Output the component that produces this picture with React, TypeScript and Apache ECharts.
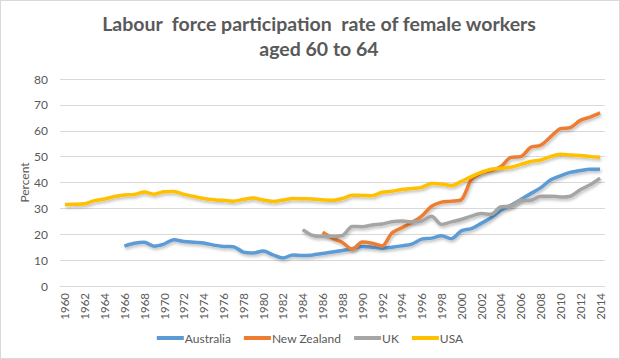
import React, { useEffect, useRef } from "react";
import * as echarts from "echarts";

const years: string[] = [];
for (let y = 1960; y <= 2014; y++) years.push(String(y));

const N = null;
// 1960-1965 missing
const australia = [N, N, N, N, N, N,
  15.4, 16.5, 16.9, 15.4, 16.2, 17.9, 17.2, 16.9, 16.6, 15.8,
  15.3, 15.2, 13.1, 12.8, 13.5, 12.0, 10.8, 12.0, 11.8, 12.0,
  12.6, 13.1, 13.7, 14.4, 15.3, 15.0, 14.6, 15.0, 15.5, 16.2,
  18.1, 18.5, 19.4, 18.3, 21.3, 22.2, 24.2, 26.4, 29.3, 31.2,
  33.4, 35.7, 37.9, 41.0, 42.6, 43.9, 44.6, 45.1, 45.1];
// 1960-1985 missing
const newZealand = [N, N, N, N, N, N, N, N, N, N, N, N, N, N, N, N, N, N, N, N, N, N, N, N, N, N,
  20.8, 18.5, 16.8, 14.2, 17.0, 16.5, 15.5, 20.5, 22.5, 24.5,
  27.0, 30.8, 32.4, 32.8, 33.4, 41.0, 43.6, 44.6, 46.2, 49.7,
  50.0, 53.6, 54.4, 57.6, 60.8, 61.2, 64.0, 65.3, 66.9];
// 1960-1983 missing
const uk = [N, N, N, N, N, N, N, N, N, N, N, N, N, N, N, N, N, N, N, N, N, N, N, N,
  21.8, 19.5, 19.2, 19.2, 19.5, 23.0, 22.9, 23.6, 24.0, 24.8,
  25.1, 24.8, 25.1, 27.0, 23.8, 24.8, 25.7, 27.0, 28.0, 27.7,
  30.6, 30.8, 33.1, 33.1, 34.7, 34.7, 34.4, 34.7, 37.2, 39.1, 41.7];
const usa = [31.5, 31.6, 31.8, 33.0, 33.6, 34.6, 35.2, 35.4, 36.3, 35.5,
  36.4, 36.5, 35.4, 34.6, 33.8, 33.3, 33.1, 32.8, 33.5, 34.0,
  33.2, 32.7, 33.2, 33.8, 33.7, 33.6, 33.3, 33.1, 33.8, 35.1,
  35.0, 34.9, 36.2, 36.6, 37.3, 37.7, 38.1, 39.6, 39.4, 38.8,
  40.4, 42.3, 43.9, 45.1, 45.5, 45.9, 47.0, 48.1, 48.7, 50.0,
  50.9, 50.6, 50.4, 50.0, 49.8];

const seriesNames = ["Australia", "New Zealand", "UK", "USA"];
const seriesColors = ["#5B9BD5", "#ED7D31", "#A5A5A5", "#FFC000"];
const seriesData = [australia, newZealand, uk, usa];

const FONT = "Lato, 'Open Sans', sans-serif";

export default function App() {
  const ref = useRef<HTMLDivElement>(null);
  useEffect(() => {
    document.body.style.margin = "0";
    const chart = echarts.init(ref.current!, null, { renderer: "svg" });
    chart.setOption({
      animation: false,
      backgroundColor: "#ffffff",
      title: {
        text: "Labour  force participation  rate of female workers\naged 60 to 64",
        left: 313,
        top: 5,
        textAlign: "center",
        textStyle: {
          fontFamily: FONT,
          fontSize: 19.5,
          fontWeight: "bold",
          color: "#595959",
          lineHeight: 25,
          align: "center",
        },
      },
      legend: {
        bottom: 9,
        left: "center",
        itemWidth: 27,
        itemHeight: 4,
        itemGap: 13,
        icon: "rect",
        textStyle: { fontFamily: FONT, fontSize: 12, color: "#595959", padding: [0, 0, 0, -4] },
        data: seriesNames,
      },
      grid: { left: 59, right: 14, top: 78, bottom: 72, containLabel: false },
      xAxis: {
        type: "category",
        data: years,
        boundaryGap: true,
        axisLine: { lineStyle: { color: "#D9D9D9" } },
        axisTick: { show: false },
        axisLabel: {
          interval: 1,
          rotate: 90,
          fontFamily: FONT,
          fontSize: 11.5,
          color: "#595959",
          margin: 7,
        },
      },
      yAxis: {
        type: "value",
        min: 0,
        max: 80,
        interval: 10,
        name: "Percent",
        nameLocation: "middle",
        nameGap: 30,
        nameMoveOverlap: false,
        nameTextStyle: { fontFamily: FONT, fontSize: 12, color: "#595959" },
        axisLine: { show: false },
        axisTick: { show: false },
        axisLabel: { fontFamily: FONT, fontSize: 12, color: "#595959", margin: 12 },
        splitLine: { lineStyle: { color: "#D9D9D9" } },
      },
      series: seriesNames.map((name, i) => ({
        name,
        type: "line",
        data: seriesData[i],
        smooth: 0.3,
        showSymbol: false,
        symbol: "none",
        connectNulls: false,
        color: seriesColors[i],
        lineStyle: {
          width: 3.5,
          color: seriesColors[i],
          shadowColor: "rgba(0,0,0,0.25)",
          shadowBlur: 3,
          shadowOffsetY: 2,
          shadowOffsetX: 1,
        },
      })),
    });
    return () => chart.dispose();
  }, []);
  return (
    <div
      ref={ref}
      style={{
        position: "absolute",
        left: 0,
        top: 0,
        width: 620,
        height: 359,
        boxSizing: "border-box",
        border: "1px solid #D9D9D9",
      }}
    />
  );
}
